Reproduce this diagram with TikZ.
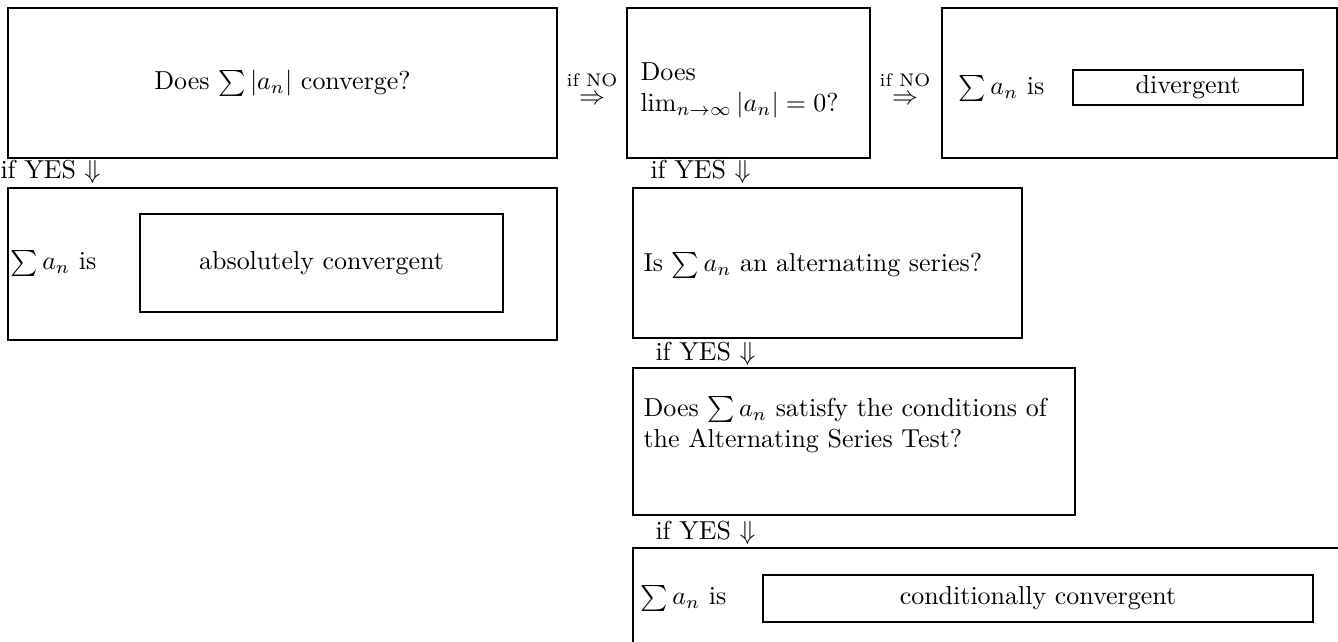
\documentclass[tikz,border=0pt]{standalone}
\usepackage{amsmath}
\usetikzlibrary{positioning}

\begin{document}
\begin{tikzpicture}[x=0.385pt,y=-0.385pt]

    \def \px {0.385pt}
    \tikzset{
      box/.style 2 args={draw, anchor=north west, inner sep=0pt, outer sep=0pt,
        minimum width={#1*\px}, minimum height={#2*\px}},
      txt/.style={inner sep=0pt, anchor=west, align=left},
      yes/.style={inner sep=0pt, anchor=west},
      nolabel/.style={inner sep=0pt, font=\scriptsize}
    }
    \useasboundingbox (0,0) rectangle (1338,642);

    % the question boxes
    \node[box={549}{150}] (absq) at (8,8) {};
    \node[box={243}{150}] (limq) at (627,8) {};
    \node[box={395}{150}] (div) at (942,8) {};
    \node[box={549}{152}] (abs) at (8,188) {};
    \node[box={389}{150}] (altq) at (633,188) {};
    \node[box={442}{147}] (astq) at (633,368) {};
    \node[box={760}{150}] (cond) at (633,548) {}; % runs off the page

    % the verdicts
    \node[box={230}{35}] (divr) at (1073,70) {divergent};
    \node[box={363}{98}] (absr) at (140,214) {absolutely convergent};
    \node[box={550}{47}] (condr) at (763,575) {conditionally convergent};

    % texts inside the boxes
    \node (absq-t) at (absq) {Does $\sum |a_n|$ converge?};
    \node[txt] (limq-t) at (640,90) {Does\\$\lim_{n\to\infty}|a_n| = 0$?};
    \node[txt] (div-t) at (958,88) {$\sum a_n$ is};
    \node[txt] (abs-t) at (10,263) {$\sum a_n$ is};
    \node[txt] (altq-t) at (643,265) {Is $\sum a_n$ an alternating series?};
    \node[txt] (astq-t) at (643,425) {Does $\sum a_n$ satisfy the conditions of\\the Alternating Series Test?};
    \node[txt] (cond-t) at (640,598) {$\sum a_n$ is};

    % the NO steps
    \node[inner sep=0pt] (no1) at (592,100) {$\Rightarrow$};
    \node[nolabel, above=3pt of no1] (no1-t) {if NO};
    \node[inner sep=0pt] (no2) at (905,100) {$\Rightarrow$};
    \node[nolabel, above=3pt of no2] (no2-t) {if NO};
    % the YES steps
    \node[yes] (yes1) at (0,172) {if YES $\Downarrow$};
    \node[yes] (yes2) at (650,172) {if YES $\Downarrow$};
    \node[yes] (yes3) at (655,354) {if YES $\Downarrow$};
    \node[yes] (yes4) at (655,533) {if YES $\Downarrow$};
  \end{tikzpicture}
\end{document}
